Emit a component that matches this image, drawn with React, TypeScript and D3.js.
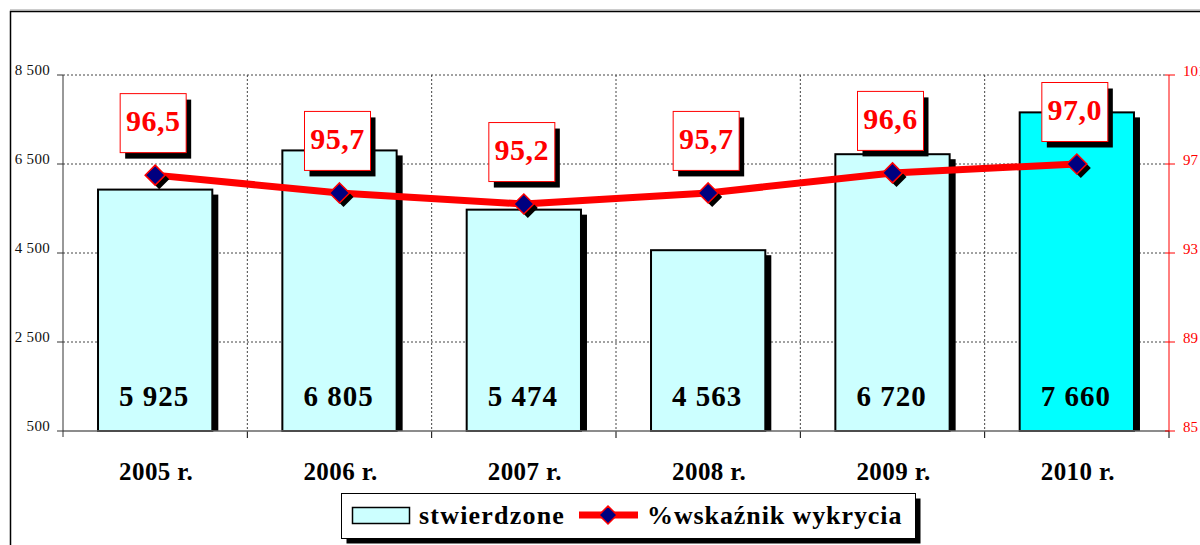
import React from "react";
import * as d3 from "d3";

// dane z wykresu
const categories = ["2005 r.", "2006 r.", "2007 r.", "2008 r.", "2009 r.", "2010 r."];
const stwierdzone = [5925, 6805, 5474, 4563, 6720, 7660];
const wskaznik = [96.5, 95.7, 95.2, 95.7, 96.6, 97.0];
const leftTicks = [500, 2500, 4500, 6500, 8500];
const rightTicks = [85, 89, 93, 97, 101];
const seriesNames = ["stwierdzone", "%wskaźnik wykrycia"];

const W = 1200;
const H = 545;
const plot = { left: 63, right: 1169, top: 75, bottom: 431 };
const font = "'Liberation Serif', 'Times New Roman', serif";

const pl = d3.formatLocale({ decimal: ",", thousands: " ", grouping: [3], currency: ["", ""] });
const fmtInt = pl.format(",d");
const fmtPct = pl.format(".1f");

const App = () => {
  const x = d3.scaleBand().domain(categories).range([plot.left, plot.right]).padding(0);
  const y = d3.scaleLinear().domain([500, 8500]).range([plot.bottom, plot.top]);
  const y2 = d3.scaleLinear().domain([85, 101]).range([plot.bottom, plot.top]);
  const step = x.bandwidth();
  const barW = step * 0.62;
  const cx = (c: string) => (x(c) as number) + step / 2;

  const line = d3
    .line<number>()
    .x((d, i) => cx(categories[i]))
    .y((d) => y2(d));

  const diamond = (px: number, py: number, r: number) =>
    `M${px},${py - r}L${px + r},${py}L${px},${py + r}L${px - r},${py}Z`;

  const boundaries = categories.slice(1).map((c) => x(c) as number);

  return (
    <svg
      width={W}
      height={H}
      style={{ position: "absolute", left: 0, top: 0, background: "#fff" }}
      fontFamily={font}
    >
      {/* ramka */}
      <rect x={10.5} y={11.5} width={1300} height={700} fill="none" stroke="#000" strokeWidth={1.5} />
      <line x1={10} x2={1200} y1={10} y2={10} stroke="#999" strokeWidth={1} />

      {/* siatka */}
      {leftTicks.slice(1).map((t) => (
        <line
          key={"gy" + t}
          x1={plot.left}
          x2={plot.right - 4}
          y1={y(t)}
          y2={y(t)}
          stroke="#444"
          strokeWidth={1}
          strokeDasharray="2,2"
        />
      ))}
      {boundaries.map((bx, i) => (
        <g key={"gx" + i}>
          <line x1={bx} x2={bx} y1={plot.top} y2={plot.bottom} stroke="#444" strokeWidth={1} strokeDasharray="2,2" />
          <line x1={bx} x2={bx} y1={plot.bottom} y2={plot.bottom + 7} stroke="#000" strokeWidth={1} />
        </g>
      ))}

      {/* słupki */}
      {stwierdzone.map((v, i) => {
        const bx = cx(categories[i]) - barW / 2;
        return (
          <g key={"b" + i}>
            <rect x={bx + 6} y={y(v) + 5} width={barW} height={plot.bottom - y(v) - 5} fill="#000" />
            <rect
              x={bx}
              y={y(v)}
              width={barW}
              height={plot.bottom - y(v)}
              fill={i === stwierdzone.length - 1 ? "#00ffff" : "#ccffff"}
              stroke="#000"
              strokeWidth={2}
            />
            <text
              x={cx(categories[i]) - 1}
              y={plot.bottom - 25}
              textAnchor="middle"
              fontSize={29}
              fontWeight="bold"
              letterSpacing={1}
              fill="#000"
            >
              {fmtInt(v)}
            </text>
          </g>
        );
      })}
      <line x1={plot.left} x2={plot.right} y1={plot.bottom} y2={plot.bottom} stroke="#666" strokeWidth={1.5} />

      {/* oś lewa */}
      <line x1={plot.left} x2={plot.left} y1={plot.top} y2={plot.bottom + 6} stroke="#333" strokeWidth={1} />
      {leftTicks.map((t) => (
        <g key={"lt" + t}>
          <line x1={plot.left - 6} x2={plot.left} y1={y(t)} y2={y(t)} stroke="#333" strokeWidth={1} />
          <text x={50} y={y(t)} textAnchor="end" fontSize={15} letterSpacing={0.3} fill="#111">
            {fmtInt(t)}
          </text>
        </g>
      ))}

      {/* oś prawa */}
      <line x1={plot.right} x2={plot.right} y1={plot.bottom} y2={plot.bottom + 7} stroke="#000" strokeWidth={1} />
      <line x1={plot.right} x2={plot.right} y1={plot.top} y2={plot.bottom} stroke="#ff0000" strokeWidth={1} />
      {rightTicks.map((t) => (
        <g key={"rt" + t}>
          <line x1={plot.right - 4} x2={plot.right + 6} y1={y2(t)} y2={y2(t)} stroke="#ff0000" strokeWidth={1} />
          <text x={plot.right + 14} y={y2(t) + 1} fontSize={15} fill="#ff0000">
            {t}
          </text>
        </g>
      ))}

      {/* etykiety kategorii */}
      {categories.map((c) => (
        <text
          key={"c" + c}
          x={cx(c) + 1}
          y={480}
          textAnchor="middle"
          fontSize={25}
          fontWeight="bold"
          letterSpacing={0.4}
          fill="#000"
        >
          {c}
        </text>
      ))}

      {/* linia wskaźnika */}
      <path d={line(wskaznik) || ""} fill="none" stroke="#ff0000" strokeWidth={7} strokeLinejoin="round" />
      {wskaznik.map((v, i) => {
        const px = cx(categories[i]);
        const py = y2(v);
        return (
          <g key={"p" + i}>
            <path d={diamond(px + 4, py + 4, 10)} fill="#000" />
            <path d={diamond(px, py, 10)} fill="#000080" stroke="#ff0000" strokeWidth={1.5} />
          </g>
        );
      })}

      {/* etykiety wskaźnika */}
      {wskaznik.map((v, i) => {
        const bcx = cx(categories[i]) - 2;
        const bcy = y2(v) - 52;
        return (
          <g key={"l" + i}>
            <rect x={bcx - 33 + 5} y={bcy - 29.5 + 6} width={66} height={59} fill="#000" />
            <rect x={bcx - 33} y={bcy - 29.5} width={66} height={59} fill="#fff" stroke="#ff0000" strokeWidth={1} />
            <text
              x={bcx}
              y={bcy + 8}
              textAnchor="middle"
              fontSize={30}
              fontWeight="bold"
              letterSpacing={0.5}
              fill="#ff0000"
            >
              {fmtPct(v)}
            </text>
          </g>
        );
      })}

      {/* legenda */}
      <g>
        <rect x={346.5} y={498.5} width={574} height={45} fill="#000" />
        <rect x={341.5} y={493.5} width={574} height={45} fill="#fff" stroke="#000" strokeWidth={1} />
        <rect x={352.5} y={507.5} width={57} height={16} fill="#ccffff" stroke="#000" strokeWidth={1.5} />
        <text x={419} y={524} fontSize={26} fontWeight="bold" letterSpacing={1.2} fill="#000">
          {seriesNames[0]}
        </text>
        <line x1={579} x2={638} y1={515} y2={515} stroke="#ff0000" strokeWidth={7} />
        <path d={diamond(608, 515, 9)} fill="#000080" stroke="#ff0000" strokeWidth={1.5} />
        <text x={647} y={524} fontSize={26} fontWeight="bold" letterSpacing={0.9} fill="#000">
          {seriesNames[1]}
        </text>
      </g>
    </svg>
  );
};

export default App;
